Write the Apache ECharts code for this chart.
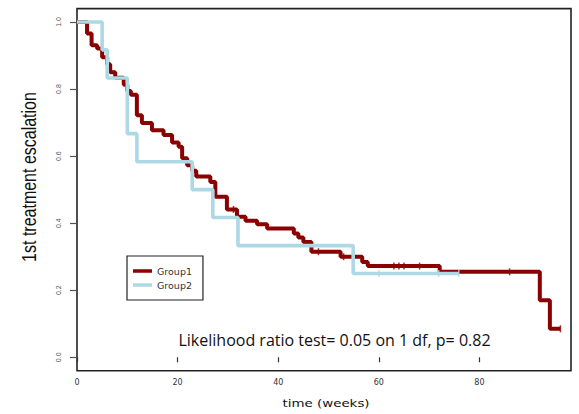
<!DOCTYPE html>
<html>
<head>
<meta charset="utf-8">
<script src="https://cdn.jsdelivr.net/npm/echarts@6/dist/echarts.min.js"></script>
<style>
html,body{margin:0;padding:0;background:#fff;}
#chart{width:579px;height:414px;}
</style>
</head>
<body>
<div id="chart"></div>
<script>
// ---- data ----
var group1Times = [0, 2.0, 2.9, 4.0, 5.0, 6.0, 6.6, 7.6, 9.3, 10.0, 10.7, 11.9, 12.9, 14.9, 17.2, 18.9, 20.2, 20.9, 21.9, 22.9, 23.7, 26.5, 27.5, 29.8, 31.8, 33.5, 35.8, 37.8, 43.1, 44.0, 45.0, 46.6, 52.4, 56.7, 57.8, 72.1, 92.0, 94.0, 96.1];
var group1Surv  = [1.0, 0.966, 0.931, 0.921, 0.895, 0.874, 0.850, 0.834, 0.813, 0.794, 0.783, 0.722, 0.699, 0.677, 0.663, 0.641, 0.628, 0.594, 0.573, 0.556, 0.539, 0.523, 0.479, 0.441, 0.419, 0.407, 0.397, 0.384, 0.369, 0.357, 0.344, 0.315, 0.300, 0.284, 0.272, 0.255, 0.170, 0.085, 0.085];
var group1Censor = [31.1, 48.0, 53.0, 63.0, 64.0, 65.0, 68.1, 86.0, 96.1];

var group2Times = [0, 5.0, 6.0, 10.0, 11.9, 22.9, 27.0, 32.0, 54.9, 75.9];
var group2Surv  = [1.0, 0.917, 0.833, 0.667, 0.583, 0.500, 0.417, 0.333, 0.250, 0.250];
var group2Censor = [60.0, 71.9, 75.9];

var seriesNames = ['Group1', 'Group2'];
var xTicks = [0, 20, 40, 60, 80];
var yTicks = [0.0, 0.2, 0.4, 0.6, 0.8, 1.0];
var xTitle = 'time (weeks)';
var yTitle = '1st treatment escalation';
var testNote = 'Likelihood ratio test= 0.05 on 1 df, p= 0.82';

// ---- build ----
function pairs(t, s) { return t.map(function (v, i) { return [v, s[i]]; }); }
function survAt(t, s, x) {
  var v = s[0];
  for (var i = 0; i < t.length; i++) { if (t[i] <= x) v = s[i]; }
  return v;
}
function censorPts(c, t, s) { return c.map(function (x) { return [x, survAt(t, s, x)]; }); }

var RED = '#8b0000', BLUE = '#add8e6';

var chart = echarts.init(document.getElementById('chart'), null, {renderer: 'svg'});
chart.setOption({
  animation: false,
  backgroundColor: '#ffffff',
  grid: {left: 77, right: 8, top: 8.6, bottom: 43.3, show: true, borderColor: '#222', borderWidth: 1.6, backgroundColor: 'transparent'},
  xAxis: {
    type: 'value', min: 0, max: 98.2,
    axisLine: {show: false},
    splitLine: {show: false},
    axisTick: {show: true, length: 5, lineStyle: {color: '#333', width: 1.2}, customValues: xTicks},
    axisLabel: {customValues: xTicks, margin: 8, fontSize: 8, fontFamily: 'DejaVu Sans', color: '#333'}
  },
  yAxis: {
    type: 'value', min: -0.04, max: 1.04,
    axisLine: {show: false},
    splitLine: {show: false},
    axisTick: {show: true, length: 7, lineStyle: {color: '#555', width: 1.2}, customValues: yTicks},
    axisLabel: {customValues: yTicks, rotate: 90, margin: 15, fontSize: 7, fontFamily: 'Liberation Sans', color: '#555',
      formatter: function (v) { return Number(v).toFixed(1); }}
  },
  legend: {
    data: seriesNames,
    orient: 'vertical', left: 127, top: 256,
    padding: [10, 11, 10, 6],
    itemGap: 4, itemWidth: 19, itemHeight: 3.5, icon: 'rect',
    borderColor: '#222', borderWidth: 1.2, backgroundColor: '#fff',
    textStyle: {fontSize: 9.5, fontFamily: 'DejaVu Sans', color: '#333', lineHeight: 10}
  },
  series: [
    {name: seriesNames[0], type: 'line', step: 'end', data: pairs(group1Times, group1Surv), showSymbol: false, symbol: 'none',
     lineStyle: {color: RED, width: 4}, itemStyle: {color: RED}, z: 2},
    {name: seriesNames[1], type: 'line', step: 'end', data: pairs(group2Times, group2Surv), showSymbol: false, symbol: 'none',
     lineStyle: {color: BLUE, width: 3.6}, itemStyle: {color: BLUE}, z: 3},
    {name: 'g1c', type: 'scatter', data: censorPts(group1Censor, group1Times, group1Surv), symbol: 'rect', symbolSize: [1.5, 7],
     itemStyle: {color: RED}, z: 4},
    {name: 'g2c', type: 'scatter', data: censorPts(group2Censor, group2Times, group2Surv), symbol: 'rect', symbolSize: [1.5, 7],
     itemStyle: {color: BLUE}, z: 5}
  ],
  graphic: [
    {type: 'text', x: 29, y: 177, rotation: Math.PI / 2, scaleY: 1.3,
     style: {text: yTitle, font: '16px "Liberation Sans"', fill: '#111', textAlign: 'center', textVerticalAlign: 'middle'}},
    {type: 'text', x: 326, y: 403, scaleX: 1.22,
     style: {text: xTitle, font: '11px "DejaVu Sans"', fill: '#111', textAlign: 'center', textVerticalAlign: 'middle'}},
    {type: 'text', x: 334.5, y: 340,
     style: {text: testNote, font: '16px "Open Sans"', fill: '#111', textAlign: 'center', textVerticalAlign: 'middle'}}
  ]
});
</script>
</body>
</html>
